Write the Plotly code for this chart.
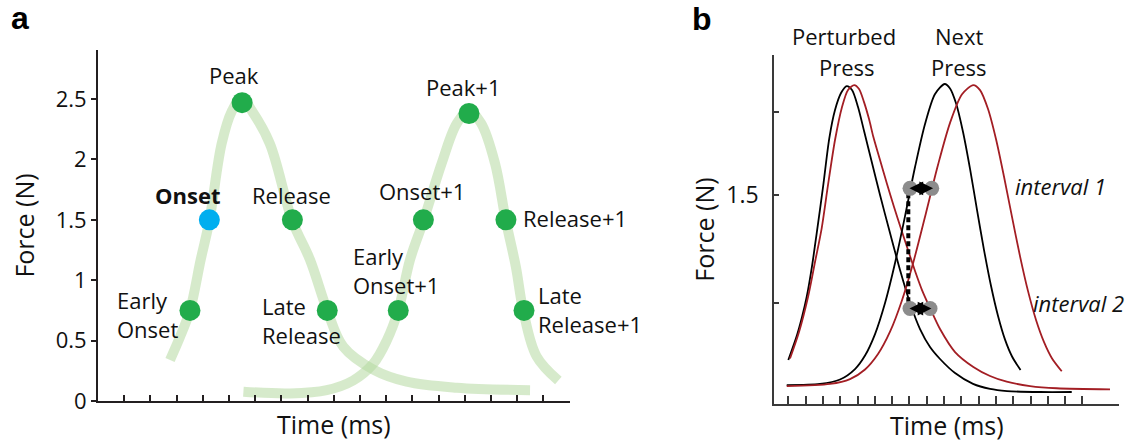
import plotly.graph_objects as go

W, H = 1135, 442

# ---------------- Panel a data ----------------
press1_t = [2.75, 3.13, 3.51, 3.92, 4.25, 4.72, 5.11, 5.48, 5.88, 6.56, 7.42, 8.09, 8.75, 9.36, 10.51, 11.78, 13.69, 16.49]
press1_f = [0.34, 0.53, 0.75, 1.17, 1.49, 2.13, 2.40, 2.51, 2.40, 2.13, 1.49, 1.17, 0.75, 0.45, 0.26, 0.16, 0.11, 0.09]

press2_t = [5.55, 7.33, 8.73, 9.74, 10.51, 11.02, 11.46, 11.91, 12.42, 13.12, 13.70, 14.16, 14.62, 15.15, 15.57, 15.95, 16.23, 16.74, 17.57]
press2_f = [0.077, 0.063, 0.09, 0.17, 0.31, 0.50, 0.75, 1.17, 1.49, 1.97, 2.30, 2.40, 2.30, 1.97, 1.49, 1.11, 0.75, 0.37, 0.17]

event_names = ["Early Onset", "Onset", "Peak", "Release", "Late Release",
               "Early Onset+1", "Onset+1", "Peak+1", "Release+1", "Late Release+1"]
event_t = [3.51, 4.25, 5.50, 7.42, 8.75, 11.46, 12.42, 14.16, 15.57, 16.26]
event_f = [0.75, 1.50, 2.47, 1.50, 0.75, 0.75, 1.50, 2.38, 1.50, 0.75]

a_ytick_vals = [0, 0.5, 1, 1.5, 2, 2.5]
a_ytick_text = ["0", "0.5", "1", "1.5", "2", "2.5"]
a_xtick_vals = list(range(1, 19))

# ---------------- Panel b data ----------------
perturbed_black_t = [0.000, 0.503, 0.792, 1.064, 1.370, 1.642, 2.006, 2.370, 2.699, 3.046, 3.376, 3.682, 4.029,
                     4.393, 4.838, 5.301, 5.879, 6.457, 7.035, 7.613, 8.191, 8.769, 9.636, 10.676, 11.659, 12.642,
                     14.549, 16.382]
perturbed_black_f = [0.316, 0.495, 0.624, 0.770, 0.990, 1.227, 1.557, 1.909, 2.110, 2.232, 2.282, 2.254, 2.132,
                     1.952, 1.730, 1.500, 1.227, 0.962, 0.725, 0.538, 0.409, 0.323, 0.222, 0.144, 0.108, 0.093,
                     0.086, 0.086]

perturbed_red_t = [0.098, 0.618, 1.139, 1.543, 1.931, 2.295, 2.699, 3.104, 3.451, 3.815, 4.087, 4.376, 4.665,
                   4.913, 5.301, 5.705, 6.110, 6.555, 6.919, 7.324, 7.728, 8.191, 8.769, 9.636, 10.694, 11.659,
                   12.624, 13.971, 15.514, 18.595]
perturbed_red_f = [0.327, 0.517, 0.768, 1.019, 1.263, 1.572, 1.895, 2.132, 2.254, 2.289, 2.261, 2.167, 2.045,
                   1.918, 1.751, 1.579, 1.414, 1.242, 1.105, 0.955, 0.818, 0.689, 0.538, 0.373, 0.266, 0.201,
                   0.160, 0.129, 0.113, 0.105]

next_black_t = [-0.092, 1.832, 2.988, 3.855, 4.434, 5.012, 5.590, 6.168, 6.746, 7.324, 7.902, 8.480, 9.040,
                9.347, 9.694, 10.098, 10.503, 10.908, 11.312, 11.717, 12.121, 12.526, 12.931, 13.422]
next_black_f = [0.136, 0.144, 0.176, 0.251, 0.348, 0.502, 0.725, 1.012, 1.349, 1.701, 2.010, 2.225, 2.297,
                2.265, 2.158, 1.952, 1.687, 1.392, 1.105, 0.847, 0.632, 0.462, 0.341, 0.244]

next_red_t = [-0.092, 2.410, 3.566, 4.434, 5.185, 5.879, 6.572, 7.266, 7.960, 8.653, 9.347, 10.040, 10.694,
              11.081, 11.543, 12.006, 12.468, 12.931, 13.393, 13.855, 14.318, 14.780, 15.243, 15.803]
next_red_f = [0.129, 0.144, 0.179, 0.248, 0.359, 0.519, 0.745, 1.036, 1.373, 1.717, 2.018, 2.223, 2.289,
              2.253, 2.117, 1.900, 1.631, 1.341, 1.060, 0.810, 0.603, 0.444, 0.327, 0.235]

interval_start_t = [7.035, 7.035]
interval_end_t = [8.289, 8.191]
interval_f = [1.548, 0.685]

dashed_t = [6.936, 6.936]
dashed_f = [1.512, 0.734]

b_ytick_vals = [0.723, 1.5, 2.098]
b_ytick_text = ["", "1.5", ""]
b_xtick_vals = list(range(0, 18))

# ---------------- styles ----------------
FONT = "Open Sans"
TXT = "#111111"
GREEN = "rgb(33,172,75)"
BLUE = "rgb(0,174,239)"
PALE = "rgba(181,217,161,0.55)"
RED = "rgb(163,30,36)"
AX_A = "#231f20"
AX_B = "#3a3a3a"


def pxx(x):
    return x / W


def pxy(y):
    return 1 - y / H


fig = go.Figure()

# Panel a curves
for t, f in [(press1_t, press1_f), (press2_t, press2_f)]:
    fig.add_trace(go.Scatter(x=t, y=f, mode="lines", line=dict(color=PALE, width=10, shape="spline", smoothing=1.0),
                             hoverinfo="skip", showlegend=False, xaxis="x", yaxis="y"))

marker_colors = [BLUE if n == "Onset" else GREEN for n in event_names]
fig.add_trace(go.Scatter(x=event_t, y=event_f, mode="markers", text=event_names,
                         marker=dict(color=marker_colors, size=21, line=dict(width=0)),
                         showlegend=False, xaxis="x", yaxis="y"))

# Panel b curves
for t, f, c in [(perturbed_black_t, perturbed_black_f, "black"),
                (perturbed_red_t, perturbed_red_f, RED),
                (next_black_t, next_black_f, "black"),
                (next_red_t, next_red_f, RED)]:
    fig.add_trace(go.Scatter(x=t, y=f, mode="lines", line=dict(color=c, width=1.8, shape="spline", smoothing=0.8),
                             showlegend=False, xaxis="x2", yaxis="y2"))

fig.add_trace(go.Scatter(x=dashed_t, y=dashed_f, mode="lines",
                         line=dict(color="black", width=4, dash="5px,3px"),
                         showlegend=False, xaxis="x2", yaxis="y2"))

fig.add_trace(go.Scatter(x=interval_start_t + interval_end_t, y=interval_f + interval_f, mode="markers",
                         marker=dict(color="rgb(140,140,140)", size=15, line=dict(width=0)),
                         showlegend=False, xaxis="x2", yaxis="y2"))

annotations = []
for ts, te, f in zip(interval_start_t, interval_end_t, interval_f):
    annotations.append(dict(x=te + 0.08, y=f, ax=ts - 0.12, ay=f, xref="x2", yref="y2", axref="x2", ayref="y2",
                            text="", showarrow=True, arrowhead=2, arrowside="end+start", arrowsize=1.25,
                            arrowwidth=2.2, arrowcolor="black", standoff=0, startstandoff=0))

# text labels: (text, x_px, y_mid_px, xanchor)
labels = [
    ("Peak", 234.2, 74.8, "center"),
    ("<b>Onset</b>", 187.2, 194.8, "center"),
    ("Release", 291.7, 194.8, "center"),
    ("Early<br>Onset", 115, 314.0, "left"),
    ("Late<br>Release", 260.3, 320.7, "left"),
    ("Early<br>Onset+1", 351, 270.7, "left"),
    ("Onset+1", 421.7, 190.5, "center"),
    ("Peak+1", 463.0, 87.2, "center"),
    ("Release+1", 521, 218.2, "left"),
    ("Late<br>Release+1", 536, 309.9, "left"),
    ("Perturbed", 844.2, 35.8, "center"),
    ("Press", 847.0, 66.5, "center"),
    ("Next", 959.3, 35.8, "center"),
    ("Press", 959.2, 66.5, "center"),
    ("<i>interval 1</i>", 1012.7, 185.8, "left"),
    ("<i>interval 2</i>", 1031.0, 302.5, "left"),
]
for txt, x, y, xa in labels:
    annotations.append(dict(text=txt, x=pxx(x), y=pxy(y), xref="paper", yref="paper", xanchor=xa, yanchor="middle",
                            align=xa if xa != "center" else "center",
                            showarrow=False, font=dict(family=FONT, size=22, color=TXT)))

for txt, x, y in [("a", 9, 18.2), ("b", 690, 18.9)]:
    annotations.append(dict(text="<b>%s</b>" % txt, x=pxx(x), y=pxy(y), xref="paper", yref="paper",
                            xanchor="left", yanchor="middle", showarrow=False,
                            font=dict(family="Liberation Sans", size=32, color="black")))

fig.update_layout(
    width=W, height=H, autosize=False,
    margin=dict(l=0, r=0, t=0, b=0),
    paper_bgcolor="white", plot_bgcolor="white",
    font=dict(family=FONT, size=22, color=TXT),
    showlegend=False,
    annotations=annotations,
    xaxis=dict(domain=[98 / W, 569.6 / W], range=[0, 18], tickvals=a_xtick_vals, showticklabels=False,
               ticks="inside", ticklen=6, tickwidth=1.5, tickcolor=AX_A, automargin=False,
               showline=True, linecolor=AX_A, linewidth=2, showgrid=False, zeroline=False,
               title=dict(text="Time (ms)", font=dict(family=FONT, size=25, color=TXT), standoff=14),
               anchor="y"),
    yaxis=dict(domain=[1 - 401 / H, 1 - 50 / H], range=[0, 2.906], tickvals=a_ytick_vals, ticktext=a_ytick_text,
               ticks="outside", ticklen=5, tickwidth=1.5, tickcolor=AX_A, automargin=False,
               tickfont=dict(family=FONT, size=22, color=TXT),
               showline=True, linecolor=AX_A, linewidth=2, showgrid=False, zeroline=False,
               title=dict(text="Force (N)", font=dict(family=FONT, size=25, color=TXT), standoff=14),
               anchor="x"),
    xaxis2=dict(domain=[774.3 / W, 1119.3 / W], range=[-0.81, 19.13], tickvals=b_xtick_vals, showticklabels=False,
                ticks="inside", ticklen=8, tickwidth=1.5, tickcolor=AX_B, automargin=False,
                showline=True, linecolor=AX_B, linewidth=2, showgrid=False, zeroline=False,
                title=dict(text="Time (ms)", font=dict(family=FONT, size=25, color=TXT), standoff=14),
                anchor="y2"),
    yaxis2=dict(domain=[1 - 404 / H, 1 - 55 / H], range=[0, 2.505], tickvals=b_ytick_vals, ticktext=b_ytick_text,
                ticks="inside", ticklen=5, tickwidth=1.5, tickcolor=AX_B, ticklabelstandoff=9, automargin=False,
                tickfont=dict(family=FONT, size=23, color=TXT),
                showline=True, linecolor=AX_B, linewidth=2, showgrid=False, zeroline=False,
                title=dict(text="Force (N)", font=dict(family=FONT, size=25, color=TXT), standoff=5),
                anchor="x2"),
)

fig.write_html("out.html")
